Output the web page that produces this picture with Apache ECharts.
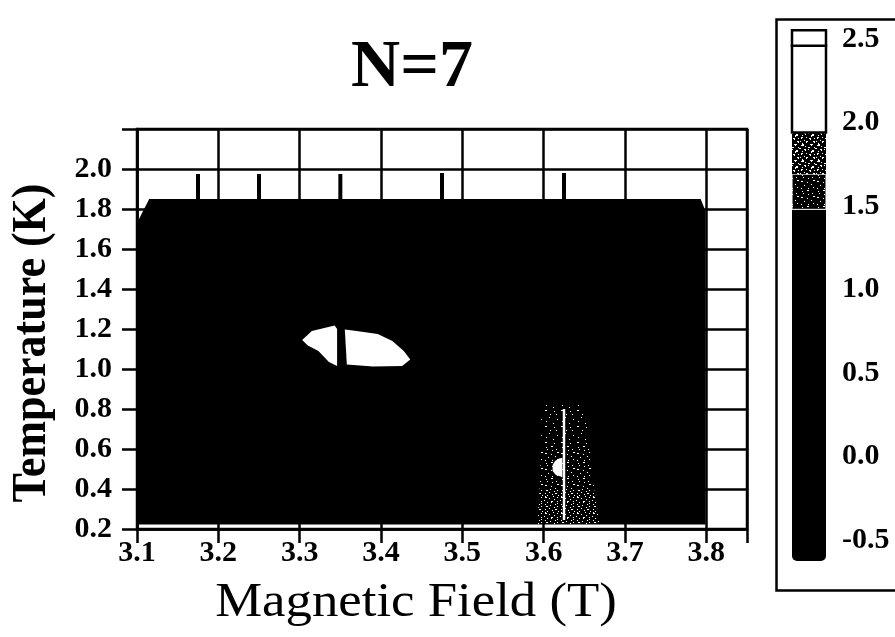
<!DOCTYPE html>
<html>
<head>
<meta charset="utf-8">
<script src="https://cdn.jsdelivr.net/npm/echarts@6/dist/echarts.min.js"></script>
<style>
  html, body { margin: 0; padding: 0; background: #fff; }
  #chart { width: 895px; height: 637px; }
</style>
</head>
<body>
<div id="chart"></div>
<script>
// ---- axis ranges -------------------------------------------------------
const fieldRange = [3.1, 3.85];     // Magnetic Field (T)
const tempRange = [0.2, 2.2];       // Temperature (K)
const levelRange = [-0.5, 2.5];     // colour-scale labels

// ---- map regions, in (field T, temperature K) --------------------------
// Measured area; everywhere inside it sits below the 1.5 level
const measuredArea = [[3.1, 0.222], [3.1, 1.73], [3.115, 1.85], [3.793, 1.85], [3.799, 1.79], [3.799, 0.222]];

// Temperature sweeps at fixed field that run above the common top edge
const sweepFields = [3.175, 3.25, 3.35, 3.475, 3.625];
const sweepTops = [1.975, 1.975, 1.975, 1.98, 1.98];
const sweepBase = 1.84;

// High-signal island near 3.37 T / 1.1 K, split by the 3.35 T sweep
const islandWest = [[3.303, 1.145], [3.315, 1.19], [3.343, 1.218], [3.346, 1.2], [3.346, 1.015], [3.336, 1.035], [3.323, 1.09], [3.31, 1.118]];
const islandEast = [[3.3555, 1.198], [3.37, 1.19], [3.396, 1.175], [3.414, 1.14], [3.428, 1.09], [3.436, 1.048], [3.426, 1.015], [3.39, 1.012], [3.358, 1.022]];

// Noisy band around 3.62 T below 0.8 K (three bands of rising density)
const bandTop = [[3.597, 0.82], [3.65, 0.82], [3.656, 0.62], [3.597, 0.62]];
const bandMid = [[3.597, 0.62], [3.656, 0.62], [3.662, 0.4], [3.595, 0.4]];
const bandLow = [[3.595, 0.4], [3.662, 0.4], [3.669, 0.225], [3.592, 0.225]];
const bandTrace = [[3.6235, 0.245], [3.6265, 0.245], [3.6265, 0.8], [3.6235, 0.8]];
const bandBump = [[3.623, 0.46], [3.615, 0.47], [3.611, 0.49], [3.611, 0.52], [3.614, 0.54], [3.619, 0.553], [3.623, 0.556]];

// ---- colour scale ------------------------------------------------------
const levelLows = [-0.626, 1.48, 1.69, 1.94, 2.46];
const levelHighs = [1.48, 1.69, 1.94, 2.46, 2.553];

// ---- textures for the dithered levels ----------------------------------
function speckle(rows) {
  const c = document.createElement('canvas');
  c.width = rows[0].length; c.height = rows.length;
  const g = c.getContext('2d');
  g.fillStyle = '#000'; g.fillRect(0, 0, c.width, c.height);
  g.fillStyle = '#fff';
  rows.forEach((r, y) => { for (let x = 0; x < r.length; x++) if (r[x] === '#') g.fillRect(x, y, 1, 1); });
  return { image: c, repeat: 'repeat' };
}
const faintDots = speckle([
  '................',
  '.....#..........',
  '................',
  '.............#..',
  '................',
  '..#.............',
  '................',
  '.........#......',
  '................',
  '................',
  '.##.............',
  '..........#.....',
  '................',
  '................',
  '......#.....#...',
  '................'
]);
const sparseDots = speckle([
  '................',
  '...#........#...',
  '........#.......',
  '................',
  '.............##.',
  '.##.............',
  '.......#........',
  '................',
  '...........#....',
  '....#...........',
  '................',
  '.............#..',
  '.#......#.......',
  '................',
  '.......##.......',
  '..#.............'
]);
const denseDots = speckle([
  '.#.......#......',
  '.##..........#..',
  '.....#..........',
  '..........#.....',
  '#...............',
  '.......##....#..',
  '...#...#........',
  '.............#..',
  '.#.........#....',
  '......#.........',
  '..##.........#..',
  '..........#.....',
  '.....#..........',
  '.#.........##...',
  '........#.......',
  '...#..........#.'
]);
const lightDots = speckle([
  '..##......###...',
  '.###.......#....',
  '.....#..........',
  '........##....#.',
  '#..............#',
  '....##..#.......',
  '.....#......##..',
  '..#........###..',
  '...........#....',
  '.##...#.........',
  '.#.......##...#.',
  '..........#.....',
  '....#...........',
  '#.....##.....##.',
  '......#.......#.',
  '..#.............'
]);

// ---- series helpers ----------------------------------------------------
function regionSeries(shapes, fill) {
  return {
    type: 'custom',
    coordinateSystem: 'cartesian2d',
    xAxisIndex: 0, yAxisIndex: 0,
    silent: true,
    clip: true,
    data: shapes.map(s => s[0]),
    renderItem: (params, api) => ({
      type: 'polygon',
      shape: { points: shapes[params.dataIndex].map(p => api.coord(p)) },
      style: { fill: fill }
    })
  };
}

const font = '"Liberation Serif", "Times New Roman", serif';
const isTenth = v => Math.abs(v * 10 - Math.round(v * 10)) < 1e-6;
const isFifth = v => Math.abs(v * 5 - Math.round(v * 5)) < 1e-6;
const tickFont = { fontFamily: font, fontSize: 30, fontWeight: 'bold', color: '#000' };

const chart = echarts.init(document.getElementById('chart'), null, { renderer: 'canvas' });

chart.setOption({
  animation: false,
  backgroundColor: '#fff',
  title: {
    text: 'N=7',
    left: 407, top: 29, textAlign: 'center',
    textStyle: { fontFamily: font, fontSize: 68, fontWeight: 'bold', color: '#000' }
  },
  grid: [
    { left: 137, top: 129, width: 610, height: 400, show: true, borderColor: '#000', borderWidth: 2.5, backgroundColor: 'transparent' },
    { left: 792, top: 39, width: 34, height: 501, show: false }
  ],
  xAxis: [
    {
      gridIndex: 0, type: 'value', min: fieldRange[0], max: fieldRange[1], interval: 0.1,
      axisLine: { onZero: false, lineStyle: { color: '#000', width: 2.5 } },
      axisTick: { length: 14, lineStyle: { color: '#000', width: 2.5 } },
      splitLine: { show: true, lineStyle: { color: '#000', width: 2.5 } },
      axisLabel: Object.assign({ margin: 9, formatter: v => isTenth(v) ? v.toFixed(1) : '' }, tickFont)
    },
    { gridIndex: 1, type: 'value', min: 0, max: 1, show: false }
  ],
  yAxis: [
    {
      gridIndex: 0, type: 'value', min: tempRange[0], max: tempRange[1], interval: 0.2,
      axisLine: { onZero: false, lineStyle: { color: '#000', width: 2.5 } },
      axisTick: { length: 15, lineStyle: { color: '#000', width: 2.5 } },
      splitLine: { show: true, lineStyle: { color: '#000', width: 2.5 } },
      axisLabel: Object.assign({ margin: 25, formatter: v => (isFifth(v) && v < 2.1) ? v.toFixed(1) : '' }, tickFont)
    },
    {
      gridIndex: 1, type: 'value', position: 'right', min: levelRange[0], max: levelRange[1], interval: 0.5,
      axisLine: { show: false }, axisTick: { show: false }, splitLine: { show: false },
      axisLabel: Object.assign({ margin: 16, formatter: v => v.toFixed(1) }, tickFont)
    }
  ],
  graphic: [
    // colour-scale frame
    { type: 'rect', left: 774, top: 17, shape: { width: 140, height: 571 }, style: { fill: 'none', stroke: '#000', lineWidth: 2.5 }, silent: true },
    // axis titles
    {
      type: 'text', x: 416, y: 603, scaleX: 1.1, silent: true,
      style: { text: 'Magnetic Field (T)', fontFamily: font, fontSize: 48, fill: '#000', align: 'center', verticalAlign: 'middle' }
    },
    {
      type: 'text', x: 33, y: 343, rotation: Math.PI / 2, scaleY: 1.1, silent: true,
      style: { text: 'Temperature (K)', fontFamily: font, fontSize: 44, fontWeight: 'bold', fill: '#000', align: 'center', verticalAlign: 'middle' }
    }
  ],
  series: [
    regionSeries([measuredArea], '#000'),
    {
      type: 'custom', coordinateSystem: 'cartesian2d', xAxisIndex: 0, yAxisIndex: 0, silent: true,
      data: sweepFields.map((f, i) => [f, sweepTops[i]]),
      renderItem: (params, api) => {
        const top = api.coord([api.value(0), api.value(1)]);
        const base = api.coord([api.value(0), sweepBase]);
        return { type: 'rect', shape: { x: top[0] - 2, y: top[1], width: 4, height: base[1] - top[1] }, style: { fill: '#000' } };
      }
    },
    regionSeries([islandWest, islandEast], '#fff'),
    regionSeries([bandTop], faintDots),
    regionSeries([bandMid], sparseDots),
    regionSeries([bandLow], denseDots),
    regionSeries([bandTrace, bandBump], '#fff'),
    {
      type: 'custom', coordinateSystem: 'cartesian2d', xAxisIndex: 1, yAxisIndex: 1, silent: true, clip: false,
      data: levelLows.map((lo, i) => [lo, levelHighs[i]]),
      renderItem: (params, api) => {
        const i = params.dataIndex;
        const a = api.coord([0, api.value(1)]);
        const b = api.coord([1, api.value(0)]);
        const shape = { x: a[0], y: a[1], width: b[0] - a[0], height: b[1] - a[1] };
        const fills = ['#000', sparseDots, lightDots, '#fff', '#fff'];
        const style = { fill: fills[i] };
        if (i === 0) shape.r = [0, 0, 5, 5];
        if (i >= 3) { style.stroke = '#000'; style.lineWidth = 2.5; }
        if (i === 1) { style.stroke = '#fff'; style.lineWidth = 1; }
        return { type: 'rect', shape: shape, style: style };
      }
    }
  ]
});
</script>
</body>
</html>
